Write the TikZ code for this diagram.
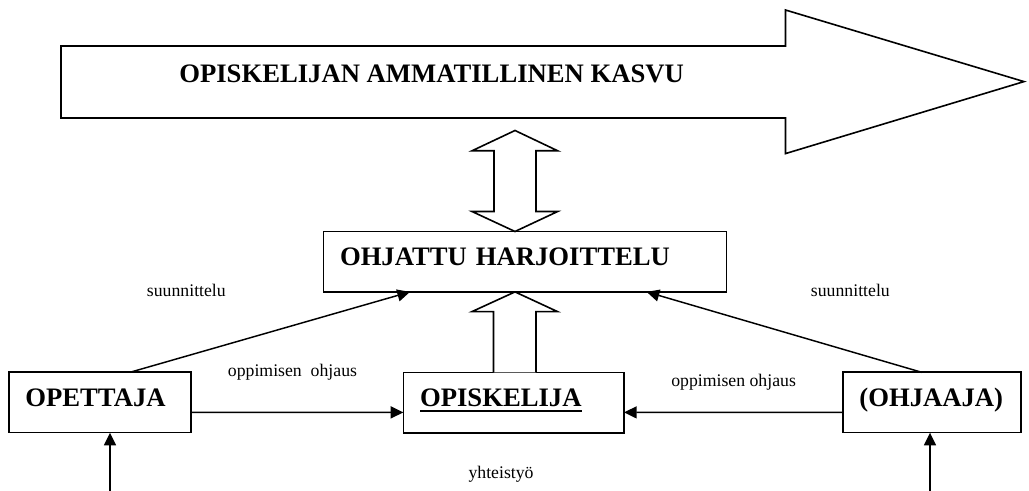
\documentclass[tikz,border=0pt]{standalone}
\usepackage{fontspec}
\setmainfont{Liberation Serif}
\usetikzlibrary{arrows.meta,calc}
\newsavebox\ulbox
\newcommand\ulinetext[1]{\sbox\ulbox{#1}\rlap{\rule[-4.5pt]{\wd\ulbox}{1.5pt}}\usebox\ulbox}
\begin{document}
\begin{tikzpicture}[x=0.75pt,y=-0.75pt,
  box/.style={draw, line width=1.2pt, fill=white, inner xsep=12.5pt, inner ysep=0pt,
    minimum height=45.3pt, align=left, text height=13.5pt, text depth=7.9pt,
    font=\fontsize{20}{24}\selectfont\bfseries, outer sep=0pt},
  conn/.style={line width=1.1pt, -{Triangle[length=9.5pt,width=9pt]}},
  block/.style={draw, line width=1.2pt, fill=white, line join=miter},
  lbl/.style={font=\fontsize{13.3}{16}\selectfont, inner sep=0pt, anchor=base west},
  big/.style={font=\fontsize{20}{24}\selectfont\bfseries, inner sep=0pt, anchor=base west}]

\useasboundingbox (0,0) rectangle (1029,491);

% big growth arrow
\draw[block] (61,46) -- (785.5,46) -- (785.5,10) -- (1024,81.6) -- (785.5,153.6)
  -- (785.5,118) -- (61,118) -- cycle;
\node[big] (kasvu) at (179,83) {OPISKELIJAN AMMATILLINEN KASVU};

% boxes
\node[box, text width=277.5pt] (ohj) at (525,261.7) {OHJATTU HARJOITTELU};
\node[box, text width=111.5pt] (opet) at (99.7,402.5) {OPETTAJA};
\node[box, text width=140.5pt] (opisk) at (513.7,402.6) {\ulinetext{OPISKELIJA}};
\node[box, text width=108.7pt] (ohjaaja) at (931.9,402.5) {(OHJAAJA)};

% double block arrow between growth arrow and OHJATTU HARJOITTELU
\draw[block] ($(ohj.north)+(-10,-101)$) -- ($(ohj.north)+(32.7,-80.7)$)
  -- ($(ohj.north)+(11,-80.7)$) -- ($(ohj.north)+(11,-20)$)
  -- ($(ohj.north)+(32.7,-20)$) -- ($(ohj.north)+(-10,0)$)
  -- ($(ohj.north)+(-53,-20)$) -- ($(ohj.north)+(-31,-20)$)
  -- ($(ohj.north)+(-31,-80.7)$) -- ($(ohj.north)+(-53,-80.7)$) -- cycle;

% block arrow from OPISKELIJA up to OHJATTU HARJOITTELU
\draw[block] ($(opisk.north)+(-20.2,0)$) -- ($(opisk.north)+(-20.2,-60.8)$)
  -- ($(opisk.north)+(-41.7,-60.8)$) -- ($(ohj.south)+(-10,0)$)
  -- ($(opisk.north)+(43.8,-60.8)$) -- ($(opisk.north)+(22.3,-60.8)$)
  -- ($(opisk.north)+(22.3,0)$);

% connectors
\draw[conn] ([xshift=22.7pt]opet.north) -- ([xshift=65pt]ohj.south west);
\draw[conn] ([xshift=-7.65pt]ohjaaja.north) -- ([xshift=-60pt]ohj.south east);
\draw[conn] ([yshift=-7.35pt]opet.east) -- ([yshift=-7.35pt]opisk.west);
\draw[conn] ([yshift=-7.35pt]ohjaaja.west) -- ([yshift=-7.35pt]opisk.east);
\coordinate (lb) at (110,491);
\coordinate (rb) at (930,491);
\draw[conn] (lb) -- (lb |- opet.south);
\draw[conn] (rb) -- (rb |- ohjaaja.south);

% labels
\node[lbl] (s1) at (146.7,296.7) {suunnittelu};
\node[lbl] (s2) at (810.7,296.7) {suunnittelu};
\node[lbl] (o1) at (227.7,377) {oppimisen\ \ ohjaus};
\node[lbl] (o2) at (671,387) {oppimisen ohjaus};
\node[lbl] (yh) at (468.3,479) {yhteistyö};
\end{tikzpicture}
\end{document}
